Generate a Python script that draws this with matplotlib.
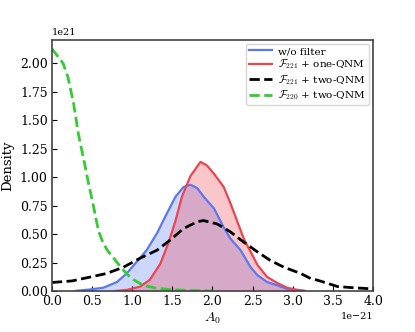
import matplotlib
matplotlib.use("Agg")
import matplotlib.pyplot as plt
import numpy as np

# x values in units of 1e-21, densities in units of 1e21
blue_x = [0.30, 0.475, 0.64, 0.81, 0.93, 1.06, 1.18, 1.31, 1.43, 1.54, 1.64, 1.725, 1.81, 1.89, 2.02, 2.14, 2.225, 2.35, 2.475, 2.56, 2.68, 2.81, 2.93, 3.06, 3.15]
blue_y = [0.003, 0.015, 0.03, 0.08, 0.155, 0.26, 0.36, 0.51, 0.68, 0.83, 0.915, 0.935, 0.905, 0.83, 0.725, 0.56, 0.46, 0.36, 0.21, 0.14, 0.08, 0.05, 0.02, 0.01, 0.002]

red_x = [0.80, 0.93, 1.10, 1.22, 1.35, 1.45, 1.54, 1.62, 1.725, 1.85, 1.93, 2.02, 2.14, 2.225, 2.31, 2.39, 2.475, 2.56, 2.68, 2.81, 2.93, 3.06, 3.15]
red_y = [0.002, 0.01, 0.04, 0.10, 0.24, 0.42, 0.62, 0.83, 1.01, 1.135, 1.105, 1.03, 0.915, 0.77, 0.61, 0.46, 0.345, 0.23, 0.125, 0.07, 0.03, 0.01, 0.002]

black_x = [0.00, 0.25, 0.45, 0.68, 0.89, 1.10, 1.31, 1.475, 1.64, 1.81, 1.89, 2.06, 2.225, 2.39, 2.56, 2.72, 2.89, 3.10, 3.225, 3.31, 3.56, 3.80, 4.00]
black_y = [0.076, 0.09, 0.12, 0.155, 0.21, 0.29, 0.36, 0.45, 0.55, 0.61, 0.62, 0.59, 0.52, 0.43, 0.345, 0.27, 0.21, 0.155, 0.11, 0.096, 0.04, 0.028, 0.02]

green_x = [0.00, 0.14, 0.20, 0.27, 0.33, 0.39, 0.45, 0.52, 0.58, 0.64, 0.70, 0.77, 0.87, 0.95, 1.02, 1.14, 1.31, 1.52, 1.75, 2.00]
green_y = [2.13, 2.00, 1.88, 1.65, 1.38, 1.18, 0.97, 0.74, 0.53, 0.42, 0.35, 0.29, 0.20, 0.14, 0.10, 0.05, 0.025, 0.012, 0.005, 0.002]

labels = ["w/o filter", r"$\mathcal{F}_{221}$ + one-QNM",
          r"$\mathcal{F}_{221}$ + two-QNM", r"$\mathcal{F}_{220}$ + two-QNM"]

plt.rcParams['font.family'] = ['DejaVu Serif']
plt.rcParams['mathtext.fontset'] = 'cm'

fig = plt.figure(figsize=(4.15, 3.32), dpi=100)
ax = fig.add_axes([0.125, 0.123, 0.774, 0.758])

sx = 1e-21
sy = 1e21
bx = np.array(blue_x) * sx; by = np.array(blue_y) * sy
rx = np.array(red_x) * sx; ry = np.array(red_y) * sy
kx = np.array(black_x) * sx; ky = np.array(black_y) * sy
gx = np.array(green_x) * sx; gy = np.array(green_y) * sy

bcol = '#5a78f2'
rcol = '#ec4452'
ax.fill_between(bx, by, color=bcol, alpha=0.3, lw=0)
ax.plot(bx, by, color=bcol, lw=1.6, label=labels[0])
ax.fill_between(rx, ry, color=rcol, alpha=0.3, lw=0)
ax.plot(rx, ry, color=rcol, lw=1.6, label=labels[1])
ax.plot(kx, ky, color='black', lw=2, ls='--', label=labels[2])
ax.plot(gx, gy, color='#33cc33', lw=2, ls='--', label=labels[3])

ax.set_xlim(0, 4e-21)
ax.set_ylim(0, 2.21e21)
ax.set_xticks(np.arange(0, 4.01, 0.5) * sx)
ax.set_yticks(np.arange(0, 2.01, 0.25) * sy)
ax.tick_params(direction='in', labelsize=9, pad=3)
for s in ax.spines.values():
    s.set_color('#444444')
    s.set_linewidth(1.2)
ax.set_xlabel(r"$A_0$", fontsize=10, labelpad=2)
ax.set_ylabel("Density", fontsize=9.5, labelpad=4)
ax.xaxis.get_offset_text().set_fontsize(7)
ax.yaxis.get_offset_text().set_fontsize(7)
ax.legend(loc='upper right', fontsize=7.5, handlelength=2.2, borderaxespad=0.4,
          labelspacing=0.15, handletextpad=0.6, borderpad=0.3)

fig.savefig("out.png", dpi=100)
